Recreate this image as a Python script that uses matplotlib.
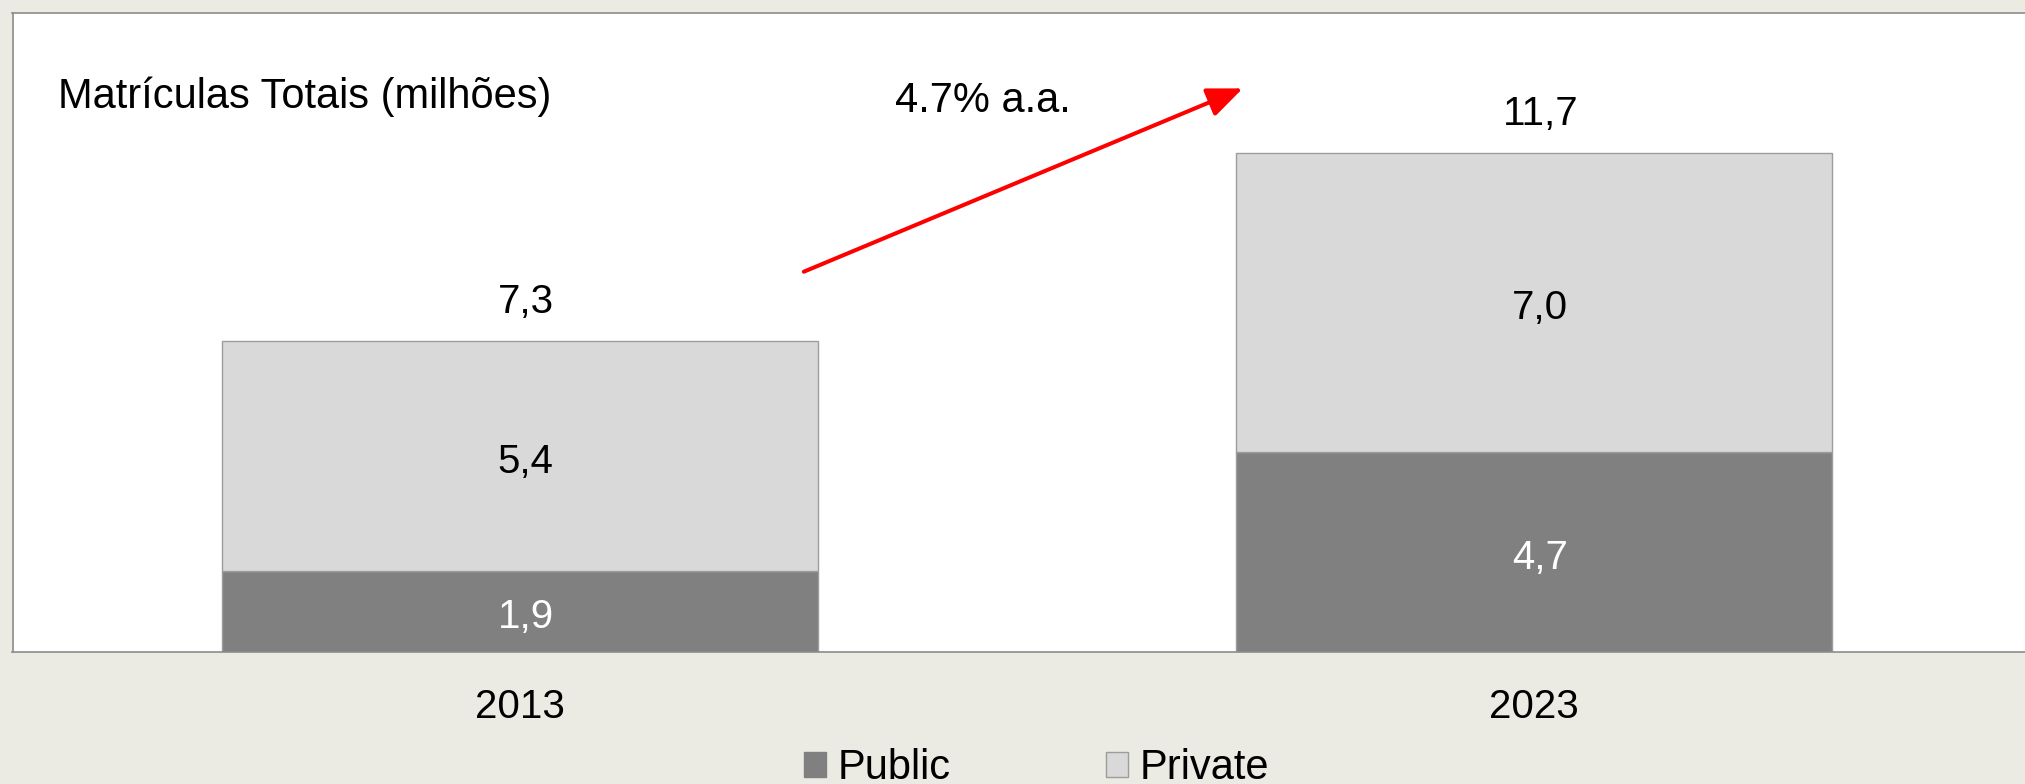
import matplotlib
matplotlib.use("Agg")
import matplotlib.pyplot as plt
from matplotlib.patches import Patch
import numpy as np

years = ["2013", "2023"]
public = [1.9, 4.7]
private = [5.4, 7.0]
totals = [7.3, 11.7]
title_text = "Matrículas Totais (milhões)"
growth_text = "4.7% a.a."
legend_labels = ["Public", "Private"]

plt.rcParams['font.family'] = ['Liberation Sans', 'DejaVu Sans']

W, H, DPI = 2025, 784, 100
fig = plt.figure(figsize=(W / DPI, H / DPI), dpi=DPI, facecolor='#EBEAE3')

ax = fig.add_axes([12.5 / W, (H - 652) / H, 2029 / W, (652 - 12.5) / H])
ax.set_facecolor('white')
ax.set_xlim(-0.5, 1.5)
ax.set_ylim(0, 15)

x = np.arange(len(years))
width = 0.5875
c_pub = '#808080'
c_priv = '#D9D9D9'
edge = '#9C9C9C'
b1 = ax.bar(x, public, width, color=c_pub, edgecolor=edge, linewidth=1.0, zorder=2)
b2 = ax.bar(x, private, width, bottom=public, color=c_priv, edgecolor=edge,
            linewidth=1.0, zorder=2)

px = 72.0 / DPI  # points per pixel
fs = 29
for i in range(len(years)):
    ax.annotate(f"{public[i]:.1f}".replace('.', ','), (x[i], public[i] / 2),
                xytext=(6 * px, -17 * px), textcoords='offset points',
                ha='center', va='baseline', fontsize=fs, color='white', zorder=3)
    ax.annotate(f"{private[i]:.1f}".replace('.', ','),
                (x[i], public[i] + private[i] / 2),
                xytext=(6 * px, -17 * px), textcoords='offset points',
                ha='center', va='baseline', fontsize=fs, color='black', zorder=3)
    ax.annotate(f"{totals[i]:.1f}".replace('.', ','), (x[i], totals[i]),
                xytext=(6 * px, 28 * px), textcoords='offset points',
                ha='center', va='baseline', fontsize=fs, color='black', zorder=3)

ax.set_xticks(x)
ax.set_xticklabels(years, fontsize=fs)
ax.tick_params(axis='x', length=0, pad=26)
ax.set_yticks([])
for s in ['left', 'top', 'bottom', 'right']:
    ax.spines[s].set_color('#8C8C8C')
    ax.spines[s].set_linewidth(1.2)

# growth arrow
ax.annotate('', xy=(0.7127, 13.22), xytext=(0.280, 8.92),
            arrowprops=dict(arrowstyle='-|>,head_length=1.08,head_width=0.45',
                            mutation_scale=20, color='#FF0000', lw=2.9,
                            shrinkA=0, shrinkB=0), zorder=4)

fig.text(58 / W, (H - 108) / H, title_text, fontsize=30, ha='left',
         va='baseline', color='black')
fig.text(895 / W, (H - 112) / H, growth_text, fontsize=30, ha='left',
         va='baseline', color='black')

handles = [Patch(facecolor=c_pub, edgecolor=c_pub),
           Patch(facecolor=c_priv, edgecolor=edge)]
fig.legend(handles, legend_labels, loc='center left',
           bbox_to_anchor=(804 / W, (H - 768) / H), ncol=2, frameon=False,
           fontsize=30, handlelength=0.53, handleheight=0.53,
           handletextpad=0.27, columnspacing=3.74, borderpad=0,
           borderaxespad=0)

fig.savefig('out.png', dpi=DPI, facecolor=fig.get_facecolor())
